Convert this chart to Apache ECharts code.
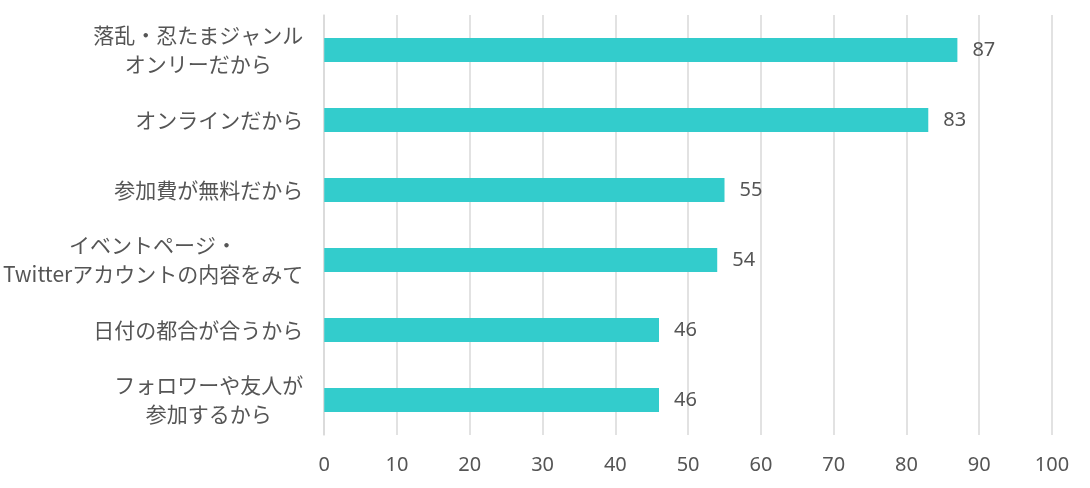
<!DOCTYPE html>
<html>
<head>
<meta charset="utf-8">
<script src="https://cdn.jsdelivr.net/npm/echarts@6/dist/echarts.min.js"></script>
<style>html,body{margin:0;padding:0;background:#fff;}#c{width:1090px;height:488px;}</style>
</head>
<body>
<div id="c"></div>
<script>
const categories = [
  '落乱・忍たまジャンル\nオンリーだから',
  'オンラインだから',
  '参加費が無料だから',
  'イベントページ・\nTwitterアカウントの内容をみて',
  '日付の都合が合うから',
  'フォロワーや友人が\n参加するから'
];
const values = [87, 83, 55, 54, 46, 46];
const xTicks = [0, 10, 20, 30, 40, 50, 60, 70, 80, 90, 100];

const JP = '"Noto Sans CJK JP", "Noto Sans", sans-serif';
const NUM = '"Liberation Sans Narrow", "Noto Sans", sans-serif';
const TXT = '#555555';

const chart = echarts.init(document.getElementById('c'), null, { renderer: 'canvas' });
chart.setOption({
  animation: false,
  backgroundColor: '#fff',
  grid: { left: 323, right: 38, top: 15, bottom: 53, containLabel: false },
  xAxis: {
    type: 'value',
    min: xTicks[0],
    max: xTicks[xTicks.length - 1],
    interval: 10,
    axisLine: { show: false },
    axisTick: { show: false },
    splitLine: { show: true, lineStyle: { color: '#D9D9D9', width: 1.5 } },
    axisLabel: { color: TXT, fontSize: 20, fontFamily: NUM, margin: 20 }
  },
  yAxis: {
    type: 'category',
    inverse: true,
    data: categories,
    axisLine: { show: true, lineStyle: { color: '#D9D9D9', width: 1.5 } },
    axisTick: { show: false },
    axisLabel: {
      margin: 21,
      fontSize: 21,
      lineHeight: 29,
      color: TXT,
      fontFamily: JP,
      formatter: function (v) {
        return v.split('\n').map(function (line) {
          return '{c|' + line + '}';
        }).join('\n');
      },
      rich: {
        c: { align: 'center', fontSize: 21, lineHeight: 29, color: TXT, fontFamily: JP }
      }
    }
  },
  series: [{
    type: 'bar',
    data: values,
    barWidth: 24,
    itemStyle: { color: '#33CCCC' },
    label: {
      show: true,
      position: 'right',
      distance: 15,
      color: TXT,
      fontSize: 20,
      fontFamily: NUM
    }
  }]
});
</script>
</body>
</html>
